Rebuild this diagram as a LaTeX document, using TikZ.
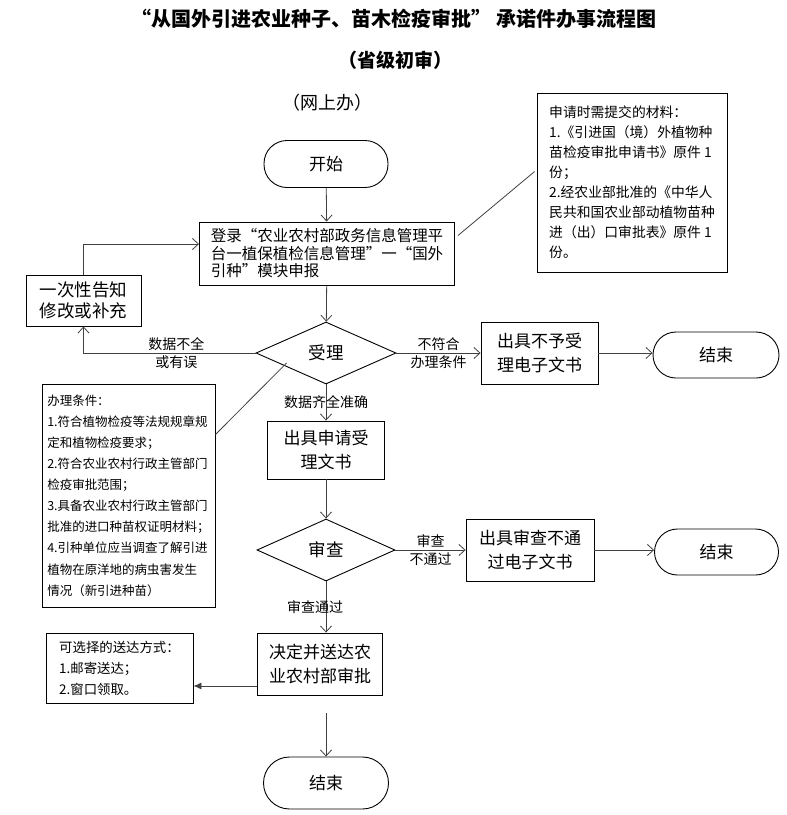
\documentclass[tikz,border=0pt]{standalone}
\usepackage{fontspec}
\setmainfont{Noto Sans CJK SC}
\usetikzlibrary{shapes.geometric, arrows.meta, calc}

\begin{document}
\begin{tikzpicture}[x=1pt,y=-1pt,>={Straight Barb[length=6pt,width=11pt]},
        line/.style={draw=black!75,line width=0.8pt},
        term/.style={draw,line width=0.9pt,rounded corners=23pt,minimum width=124pt,minimum height=47pt,font=\fontsize{17}{20}\selectfont},
        proc/.style={draw,line width=0.9pt,align=center,inner sep=0pt,font=\fontsize{17}{24}\selectfont},
        check/.style={draw,diamond,aspect=2.25,line width=0.9pt,minimum width=140pt,minimum height=62pt,inner sep=0pt,font=\fontsize{17.5}{20}\selectfont},
        note/.style={draw,line width=0.9pt,align=left,inner sep=0pt},
        lab/.style={font=\fontsize{14}{16}\selectfont,inner sep=2pt}]
    \useasboundingbox (0,0) rectangle (787,815);

    \node[font=\fontsize{20}{24}\selectfont\bfseries] (title) at (394,19) {“从国外引进农业种子、苗木检疫审批” 承诺件办事流程图};
    \node[font=\fontsize{19}{24}\selectfont\bfseries] (subtitle) at (395,60) {（省级初审）};
    \node[font=\fontsize{18}{22}\selectfont] (online) at (327,103) {（网上办）};

    \node[term] (start) at (326,164) {开始};
    \node[proc,minimum width=255pt,minimum height=63pt,align=left,font=\fontsize{15.5}{17.5}\selectfont] (login) at (327,253.5) {登录“农业农村部政务信息管理平\\台一植保植检信息管理”一“国外\\引种”模块申报};
    \node[proc,minimum width=115pt,minimum height=51pt,font=\fontsize{17.5}{21}\selectfont] (notify) at (83.5,300.5) {一次性告知\\修改或补充};
    \node[check] (accept) at (326,353) {受理};
    \node[proc,minimum width=117pt,minimum height=62pt] (reject) at (539.5,353) {出具不予受\\理电子文书};
    \node[term,minimum width=126pt,minimum height=46pt] (end_1) at (716,355) {结束};
    \node[proc,minimum width=117pt,minimum height=58pt] (receipt) at (326,450) {出具申请受\\理文书};
    \node[check,minimum width=138pt] (review) at (326,550) {审查};
    \node[proc,minimum width=128pt,minimum height=62pt] (fail) at (530,550) {出具审查不通\\过电子文书};
    \node[term,minimum width=124pt,minimum height=46pt] (end_2) at (716.5,552) {结束};
    \node[proc,minimum width=125pt,minimum height=62pt] (decide) at (320,664) {决定并送达农\\业农村部审批};
    \node[term,minimum width=125pt,minimum height=52pt,rounded corners=26pt] (end_3) at (326,783) {结束};

    \node[note,minimum width=190pt,minimum height=179pt,font=\fontsize{13.8}{20}\selectfont] (materials) at (632,182.5) {申请时需提交的材料：\\1.《引进国（境）外植物种\\苗检疫审批申请书》原件 1\\份；\\2.经农业部批准的《中华人\\民共和国农业部动植物苗种\\进（出）口审批表》原件 1\\份。};
    \node[note,minimum width=173pt,minimum height=223pt,font=\fontsize{12.5}{21.1}\selectfont] (conditions) at (128.5,495.5) {办理条件：\\1.符合植物检疫等法规规章规\\定和植物检疫要求；\\2.符合农业农村行政主管部门\\检疫审批范围；\\3.具备农业农村行政主管部门\\批准的进口种苗权证明材料；\\4.引种单位应当调查了解引进\\植物在原洋地的病虫害发生\\情况（新引进种苗）};
    \node[note,minimum width=147pt,minimum height=70pt,font=\fontsize{13.4}{21}\selectfont] (delivery) at (119.5,668) {可选择的送达方式：\\1.邮寄送达；\\2.窗口领取。};

    \draw[line,->] (start) -- (login);
    \draw[line,->] (login) -- (accept);
    \draw[line,->] (accept.west) -| node[lab,pos=0.23,above] {数据不全} node[lab,pos=0.23,below] {或有误} (notify.south);
    \draw[line,->] (notify.north) |- ([yshift=9.5pt]login.west);
    \draw[line,->] (accept.east) -- node[lab,above] {不符合} node[lab,below] {办理条件} (reject.west);
    \draw[line,->] (reject.east) -- (reject.east -| end_1.west);
    \draw[line,->] (accept) -- node[lab] {数据齐全准确} (receipt);
    \draw[line,->] (receipt) -- (review);
    \draw[line,->] (review.east) -- node[lab,above] {审查} node[lab,below] {不通过} (fail.west);
    \draw[line,->] (fail.east) -- (fail.east -| end_2.west);
    \draw[line,->] (review.south) -- node[lab,xshift=-11pt] {审查通过} (review.south |- decide.north);
    \coordinate (d_tap) at ($(decide.west)+(0,22)$);
    \draw[line,-{Latex[length=8pt,width=7pt]}] (d_tap) -- (d_tap -| delivery.east);
    \draw[line,->,shorten <=18pt] (decide.south -| end_3.north) -- (end_3.north);
    \draw[line] ($(login.north east)+(3,14)$) -- ($(materials.north west)+(-2,79)$);
    \draw[line] ($(conditions.north east)+(0,51)$) -- ($(accept.west)+(31,10)$);
\end{tikzpicture}
\end{document}
